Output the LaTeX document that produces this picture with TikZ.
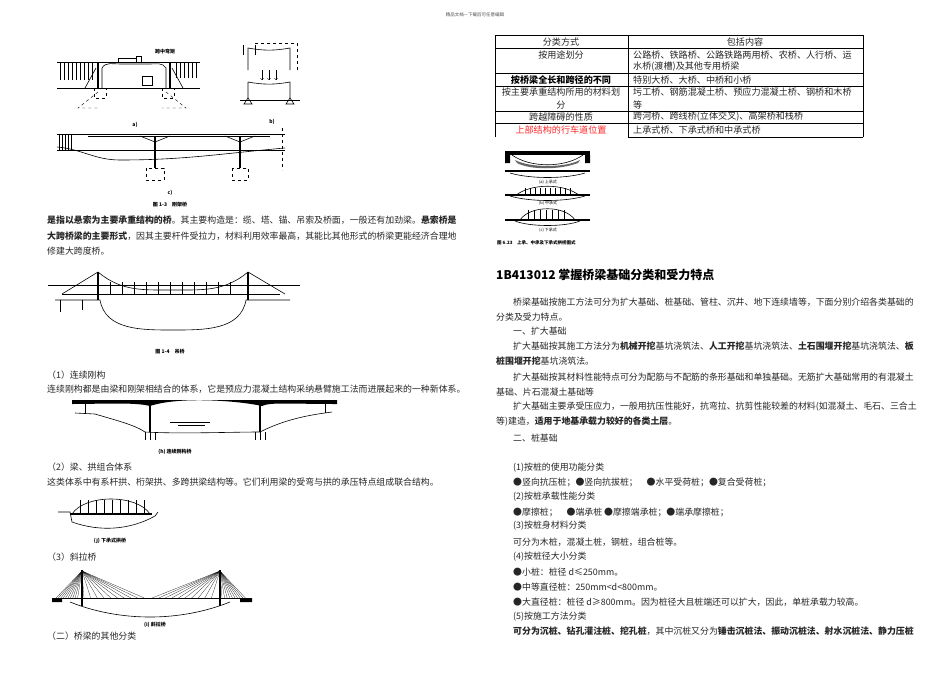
\documentclass[tikz,border=0pt]{standalone}
\usepackage{fontspec}
\setmainfont{Noto Sans CJK SC}
\begin{document}
\begin{tikzpicture}[x=1pt,y=-1pt,
  tx/.style={anchor=west,inner sep=0pt,font=\fontsize{8.9}{10}\selectfont,text=black!85},
  figcap/.style={inner sep=0pt,font=\fontsize{5}{6}\selectfont\bfseries},
  cell/.style={inner sep=0pt,font=\fontsize{9.1}{10}\selectfont,text=black!85},
  ln/.style={line width=0.6pt},
  dsh/.style={dashed,line width=0.4pt}]
\useasboundingbox (0,0) rectangle (950,672);
\fill[white] (0,0) rectangle (950,672);
\node[inner sep=0pt,font=\fontsize{4.5}{5}\selectfont,text=black!70] (hdr) at (475,15) {精品文档---下载后可任意编辑};

% ===== Fig 1-3 a)
\draw[ln] (57,62) -- (200,62);
\draw[ln] (57,88) -- (200,88);
\draw[line width=1.2pt] (98,62) -- (98,88) (170,62) -- (170,88);
\draw[ln] (102,88) -- (102,68) to[out=60,in=180] (120,64) -- (150,64) to[out=0,in=120] (166,68) -- (166,88);
\foreach \x in {60,64,...,92} \draw[line width=0.3pt] (\x,62) -- (\x,80);
\foreach \x in {176,180,...,196} \draw[line width=0.3pt] (\x,62) -- (\x,78);
\draw[ln] (85,88) -- (96,68) (183,88) -- (172,68);
\draw[dsh] (94,88) rectangle (106,98) (162,88) rectangle (174,98);
\draw[dsh] (98,92) -- (78,108) -- (100,108) (166,92) -- (186,108) -- (162,108);
\draw[ln] (118,58) rectangle (136,62) (136,56) rectangle (141,62);
\draw[ln] (142,76) rectangle (152,85);
\node[figcap] (lbl1) at (165,52) {跨中弯矩};
\node[figcap] (lbla) at (135,125) {a)};
% b)
\draw[ln] (243,45) -- (243,55) (255,45) -- (255,55);
\draw[ln] (248,70) -- (248,48) to[out=-10,in=190] (290,48) -- (290,70);
\draw[dsh] (255,43) -- (297,43) -- (297,70);
\draw[ln] (248,82) -- (248,98) (248,82) to[out=-10,in=190] (290,82) -- (290,98);
\foreach \x in {262,269,276} \draw[->,line width=0.4pt] (\x,70) -- (\x,80);
\draw[ln] (240,100) -- (300,100);
\draw[ln] (244,104) -- (248,98) -- (252,104) -- cycle (286,104) -- (290,98) -- (294,104) -- cycle;
\node[figcap] (lblb) at (272,122) {b)};
% c)
\draw[ln] (57,134) -- (285,134);
\draw[ln] (57,150) -- (285,150);
\draw[ln] (88,136) -- (270,136);
\draw[ln] (57,147) to[out=-5,in=180] (120,160) to[out=0,in=185] (285,148);
\draw[line width=1.2pt] (155,136) -- (155,168) (240,136) -- (240,168);
\draw[ln] (140,136) -- (155,142) -- (170,136) (225,136) -- (240,142) -- (255,136);
\foreach \x in {59,62,...,72} \draw[line width=0.3pt] (\x,134) -- (\x,150);
\draw[dsh] (146,168) rectangle (164,180) (232,168) rectangle (248,180);
\draw[dsh] (282,128) -- (282,170);
\node[figcap] (lblc) at (170,193) {c)};
\node[figcap] (f13) at (170,205) {图 1-3\quad 刚架桥};

% ===== text paragraph suspension
\node[tx] (p1) at (47,220) {\textbf{是指以悬索为主要承重结构的桥}。其主要构造是：缆、塔、锚、吊索及桥面，一般还有加劲梁。\textbf{悬索桥是}};
\node[tx] (p2) at (47,236) {\textbf{大跨桥梁的主要形式}，因其主要杆件受拉力，材料利用效率最高，其能比其他形式的桥梁更能经济合理地};
\node[tx] (p3) at (47,251) {修建大跨度桥。};

% ===== Fig 1-4 suspension
\draw[ln] (48,285) -- (300,285);
\draw[ln] (62,294) -- (280,294);
\draw[line width=1.5pt] (98,272) -- (98,300) (248,272) -- (248,300);
\draw[ln] (62,294) -- (98,272) to[out=-40,in=180] (173,290) to[out=0,in=220] (248,272) -- (285,294);
\foreach \x in {110,122,...,236} \draw[line width=0.3pt] (\x,294) -- (\x,282);
\draw[ln] (55,300) -- (100,300) to[out=-80,in=180] (173,330) to[out=0,in=-100] (246,300) -- (290,300);
\draw[ln] (60,300) -- (60,312) (82,300) -- (82,310);
\node[figcap] (f14) at (170,352) {图 1-4\quad 吊桥};

% ===== (1)
\node[tx] (s1) at (47,375) {（1）连续刚构};
\node[tx] (s1b) at (47,389) {连续刚构都是由梁和刚架相结合的体系，它是预应力混凝土结构采纳悬臂施工法而进展起来的一种新体系。};
\fill (72,400) -- (337,400) -- (337,404) .. controls (290,404) and (270,402) .. (262,406) .. controls (240,401) and (180,396) .. (150,406) .. controls (135,402) and (100,404) .. (72,404) -- cycle;
\draw[line width=1.5pt] (150,405) -- (150,432) (260,405) -- (260,432);
\draw[ln] (85,404) -- (85,413) (325,404) -- (325,413);
\draw[ln] (75,413) -- (95,414) .. controls (115,420) and (135,425) .. (145,432) .. controls (180,434) and (230,432) .. (260,432) .. controls (280,422) and (300,416) .. (332,412);
\draw[ln] (145,432) -- (145,440) (150,432) -- (150,440) (155,432) -- (155,440) (255,432) -- (255,440) (260,432) -- (260,440) (265,432) -- (265,440);
\draw[line width=0.3pt] (170,422) -- (210,422) (178,425) -- (205,425);
\node[figcap] (fh) at (175,452) {(h) 连续刚构桥};

% ===== (2)
\node[tx] (s2) at (47,467) {（2）梁、拱组合体系};
\node[tx] (s2b) at (47,482) {这类体系中有系杆拱、桁架拱、多跨拱梁结构等。它们利用梁的受弯与拱的承压特点组成联合结构。};
\draw[line width=1.2pt] (70,514) -- (152,514);
\draw[ln] (72,514) .. controls (85,494) and (137,494) .. (150,514);
\foreach \x in {80,88,...,144} \draw[line width=0.3pt] (\x,514) -- (\x,500);
\draw[ln] (58,512) -- (70,512) -- (72,522) .. controls (100,532) and (130,530) .. (155,516) -- (158,512);
\node[figcap] (fj) at (110,541) {(j) 下承式拱桥};
\node[tx] (s3) at (47,557) {（3）斜拉桥};
% cable stayed
\draw[ln] (52,598) -- (250,598);
\draw[line width=1.3pt] (82,570) -- (82,606) (220,570) -- (220,606);
\fill (52,598) rectangle (62,602) (240,598) rectangle (252,602);
\foreach \t in {0,0.1,...,1} {\draw[line width=0.2pt] (82,571) -- ({56+\t*24},598); \draw[line width=0.2pt] (82,571) -- ({84+\t*67},598);
 \draw[line width=0.2pt] (220,571) -- ({222+\t*26},598); \draw[line width=0.2pt] (220,571) -- ({152+\t*66},598);}
\draw[ln] (70,602) .. controls (120,622) and (180,622) .. (230,602);
\node[figcap] (fi) at (155,625) {(i) 斜拉桥};
\node[tx] (s4) at (47,636) {（二）桥梁的其他分类};

% ===== table
\draw[line width=0.5pt] (495,35) -- (863,35) (495,48) -- (863,48) (495,73) -- (863,73) (495,86) -- (863,86) (495,111) -- (863,111) (495,123) -- (863,123) (628,137) -- (863,137);
\draw[line width=0.5pt] (495,35) -- (495,137) (628,35) -- (628,137) (863,35) -- (863,137);
\node[cell] (h1) at (561,42) {分类方式};
\node[cell] (h2) at (745,42) {包括内容};
\node[cell] (r1a) at (561,55) {按用途划分};
\node[cell,anchor=west] (r1b) at (633,55) {公路桥、铁路桥、公路铁路两用桥、农桥、人行桥、运};
\node[cell,anchor=west] (r1c) at (633,67) {水桥(渡槽)及其他专用桥梁};
\node[cell,font=\fontsize{9.1}{10}\selectfont\bfseries,text=black] (r2a) at (561,80) {按桥梁全长和跨径的不同};
\node[cell,anchor=west] (r2b) at (633,80) {特别大桥、大桥、中桥和小桥};
\node[cell] (r3a) at (561,92) {按主要承重结构所用的材料划};
\node[cell] (r3c) at (561,105) {分};
\node[cell,anchor=west] (r3b) at (633,92) {圬工桥、钢筋混凝土桥、预应力混凝土桥、钢桥和木桥};
\node[cell,anchor=west] (r3d) at (633,105) {等};
\node[cell] (r4a) at (561,117) {跨越障碍的性质};
\node[cell,anchor=west] (r4b) at (633,117) {跨河桥、跨线桥(立体交叉)、高架桥和栈桥};
\node[cell,text=red!85] (r5a) at (561,130) {上部结构的行车道位置};
\node[cell,anchor=west] (r5b) at (633,130) {上承式桥、下承式桥和中承式桥};

% ===== Fig 6.23
\fill (505,151) rectangle (590,155);
\fill (505,155) rectangle (510,163) (585,155) rectangle (590,163);
\draw[ln] (512,155) .. controls (530,168) and (565,168) .. (583,155);
\fill[black!60] (515,160) .. controls (530,168) and (565,168) .. (580,160) -- (578,163) .. controls (560,170) and (530,170) .. (517,163) -- cycle;
\draw[line width=1.2pt] (505,171) -- (590,171);
\draw[ln] (510,173) .. controls (530,179) and (565,179) .. (585,173);
\node[figcap,font=\fontsize{4}{5}\selectfont] (ca) at (548,182) {(a) 上承式};
\draw[line width=1.2pt] (505,195) -- (590,195);
\draw[ln] (515,196) .. controls (530,183) and (565,183) .. (580,196);
\foreach \x in {525,530,...,570} \draw[line width=0.2pt] (\x,195) -- (\x,188);
\draw[ln] (510,196) .. controls (530,202) and (565,202) .. (585,196);
\node[figcap,font=\fontsize{4}{5}\selectfont] (cb) at (548,203) {(b) 中承式};
\draw[line width=1.5pt] (505,220) -- (590,220);
\draw[ln] (520,220) .. controls (530,205) and (565,205) .. (575,220);
\foreach \x in {528,534,...,568} \draw[line width=0.2pt] (\x,220) -- (\x,210);
\draw[ln] (515,221) .. controls (530,227) and (565,227) .. (580,221);
\node[figcap,font=\fontsize{4}{5}\selectfont] (cc) at (548,230) {(c) 下承式};
\node[figcap,anchor=west,font=\fontsize{4.5}{5}\selectfont\bfseries] (f623) at (497,243) {图 6.23\quad 上承、中承及下承式拱桥图式};

% ===== right text
\node[tx,font=\fontsize{12}{14}\selectfont\bfseries,text=black] (title) at (496,275) {1B413012 掌握桥梁基础分类和受力特点};
\node[tx] (t1) at (513,302) {桥梁基础按施工方法可分为扩大基础、桩基础、管柱、沉井、地下连续墙等，下面分别介绍各类基础的};
\node[tx] (t2) at (496,317) {分类及受力特点。};
\node[tx] (t3) at (513,331) {一、扩大基础};
\node[tx] (t4) at (513,346) {扩大基础按其施工方法分为\textbf{机械开挖}基坑浇筑法、\textbf{人工开挖}基坑浇筑法、\textbf{土石围堰开挖}基坑浇筑法、\textbf{板}};
\node[tx] (t5) at (496,361) {\textbf{桩围堰开挖}基坑浇筑法。};
\node[tx] (t6) at (513,377) {扩大基础按其材料性能特点可分为配筋与不配筋的条形基础和单独基础。无筋扩大基础常用的有混凝土};
\node[tx] (t7) at (496,392) {基础、片石混凝土基础等};
\node[tx] (t8) at (513,407) {扩大基础主要承受压应力，一般用抗压性能好，抗弯拉、抗剪性能较差的材料(如混凝土、毛石、三合土};
\node[tx] (t9) at (496,422) {等)建造，\textbf{适用于地基承载力较好的各类土层}。};
\node[tx] (t10) at (513,438) {二、桩基础};
\node[tx] (u1) at (513,468) {(1)按桩的使用功能分类};
\node[tx] (u2) at (513,482) {●竖向抗压桩；●竖向抗拔桩；\quad●水平受荷桩；●复合受荷桩；};
\node[tx] (u3) at (513,497) {(2)按桩承载性能分类};
\node[tx] (u4) at (513,512) {●摩擦桩；\quad●端承桩\ ●摩擦端承桩；●端承摩擦桩；};
\node[tx] (u5) at (513,526) {(3)按桩身材料分类};
\node[tx] (u6) at (513,542) {可分为木桩，混凝土桩，钢桩，组合桩等。};
\node[tx] (u7) at (513,557) {(4)按桩径大小分类};
\node[tx] (u8) at (513,572) {●小桩：桩径 d≤250mm。};
\node[tx] (u9) at (513,587) {●中等直径桩：250mm<d<800mm。};
\node[tx] (u10) at (513,602) {●大直径桩：桩径 d≥800mm。因为桩径大且桩端还可以扩大，因此，单桩承载力较高。};
\node[tx] (u11) at (513,617) {(5)按施工方法分类};
\node[tx] (u12) at (513,631) {\textbf{可分为沉桩、钻孔灌注桩、挖孔桩}，其中沉桩又分为\textbf{锤击沉桩法、振动沉桩法、射水沉桩法、静力压桩}};
\end{tikzpicture}
\end{document}
